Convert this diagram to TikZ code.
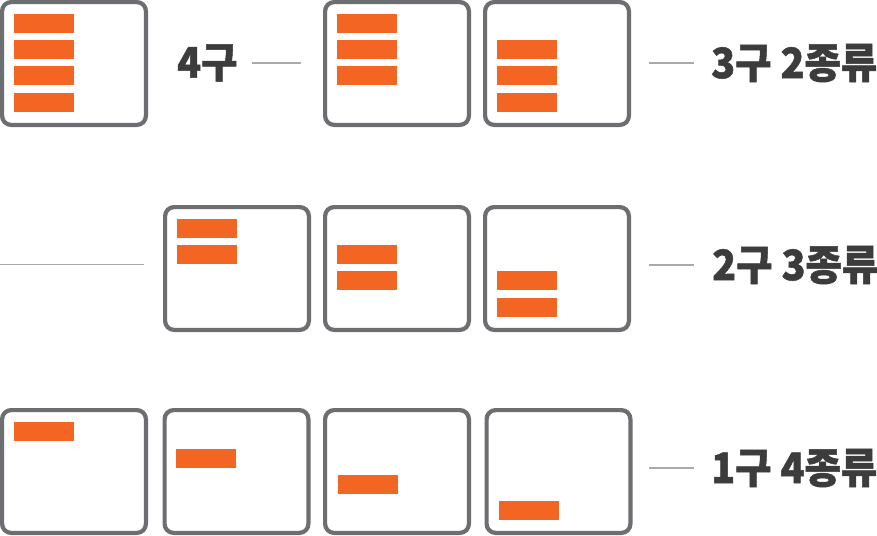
\documentclass[tikz,border=0pt]{standalone}
\usepackage{fontspec}
\newfontfamily\krfont{Noto Sans CJK KR}[FakeStretch=0.94,FakeBold=1.2]
\usetikzlibrary{calc}
\definecolor{boxgray}{HTML}{6D6E71}
\definecolor{barorange}{HTML}{F26522}
\definecolor{linegray}{HTML}{A7A9AC}
\definecolor{textgray}{HTML}{3C3C3C}
\begin{document}
\begin{tikzpicture}[x=1pt,y=-1pt,
  slotbox/.style={draw=boxgray, line width=4.2pt, rounded corners=9pt,
    minimum width=143.8pt, minimum height=122.8pt, inner sep=0pt, fill=white},
  bar/.style={fill=barorange, minimum width=60pt, minimum height=19pt,
    inner sep=0pt, outer sep=0pt, anchor=north west},
  lbl/.style={text=textgray, font=\krfont\bfseries\fontsize{42}{42}\selectfont,
    inner sep=0pt, anchor=west},
  conn/.style={draw=linegray, line width=1.5pt}]
\useasboundingbox (0,0) rectangle (877,535);

% ---- row 1 ----
\node[slotbox] (b11) at (74,63.5) {};
\node[slotbox] (b12) at (397,63.5) {};
\node[slotbox] (b13) at (557,63.5) {};
\foreach \k in {0,1,2,3} {\node[bar] at (14,14+26.2*\k) {};}
\foreach \k in {0,1,2} {\node[bar] at (337,14+26.2*\k) {};}
\foreach \k in {1,2,3} {\node[bar] at (497,14+26.2*\k) {};}
\node[lbl] (t1) at (177,63) {4구};
\node[lbl] (r1) at (711,63) {3구 2종류};
\draw[conn] ([xshift=14pt]t1.east) -- ([xshift=-22pt]b12.west |- t1.east);
\draw[conn] ([xshift=-62pt]r1.west) -- ([xshift=-17pt]r1.west);

% ---- row 2 ----
\node[slotbox] (b22) at (237,268.5) {};
\node[slotbox] (b23) at (397,268.5) {};
\node[slotbox] (b24) at (557,268.5) {};
\foreach \k in {0,1} {\node[bar] at (177,219+26.2*\k) {};}
\foreach \k in {1,2} {\node[bar] at (337,219+26.2*\k) {};}
\foreach \k in {2,3} {\node[bar] at (497,219+26.2*\k) {};}
\node[lbl] (r2) at (712,265) {2구 3종류};
\coordinate (l2s) at (0,264.5);
\draw[conn] (l2s) -- ([xshift=-19pt]b22.west |- l2s);
\draw[conn] ([xshift=-63pt]r2.west) -- ([xshift=-18pt]r2.west);

% ---- row 3 ----
\node[slotbox] (b31) at (74,471.5) {};
\node[slotbox] (b32) at (236.5,471.5) {};
\node[slotbox] (b33) at (397,471.5) {};
\node[slotbox] (b34) at (558.5,471.5) {};
\node[bar] at (14,422.3) {};
\node[bar] at (176,448.5) {};
\node[bar] at (337.5,474.7) {};
\node[bar] at (499,500.5) {};
\node[lbl] (r3) at (711,468) {1구 4종류};
\draw[conn] ([xshift=-62pt]r3.west) -- ([xshift=-17pt]r3.west);
\end{tikzpicture}
\end{document}
